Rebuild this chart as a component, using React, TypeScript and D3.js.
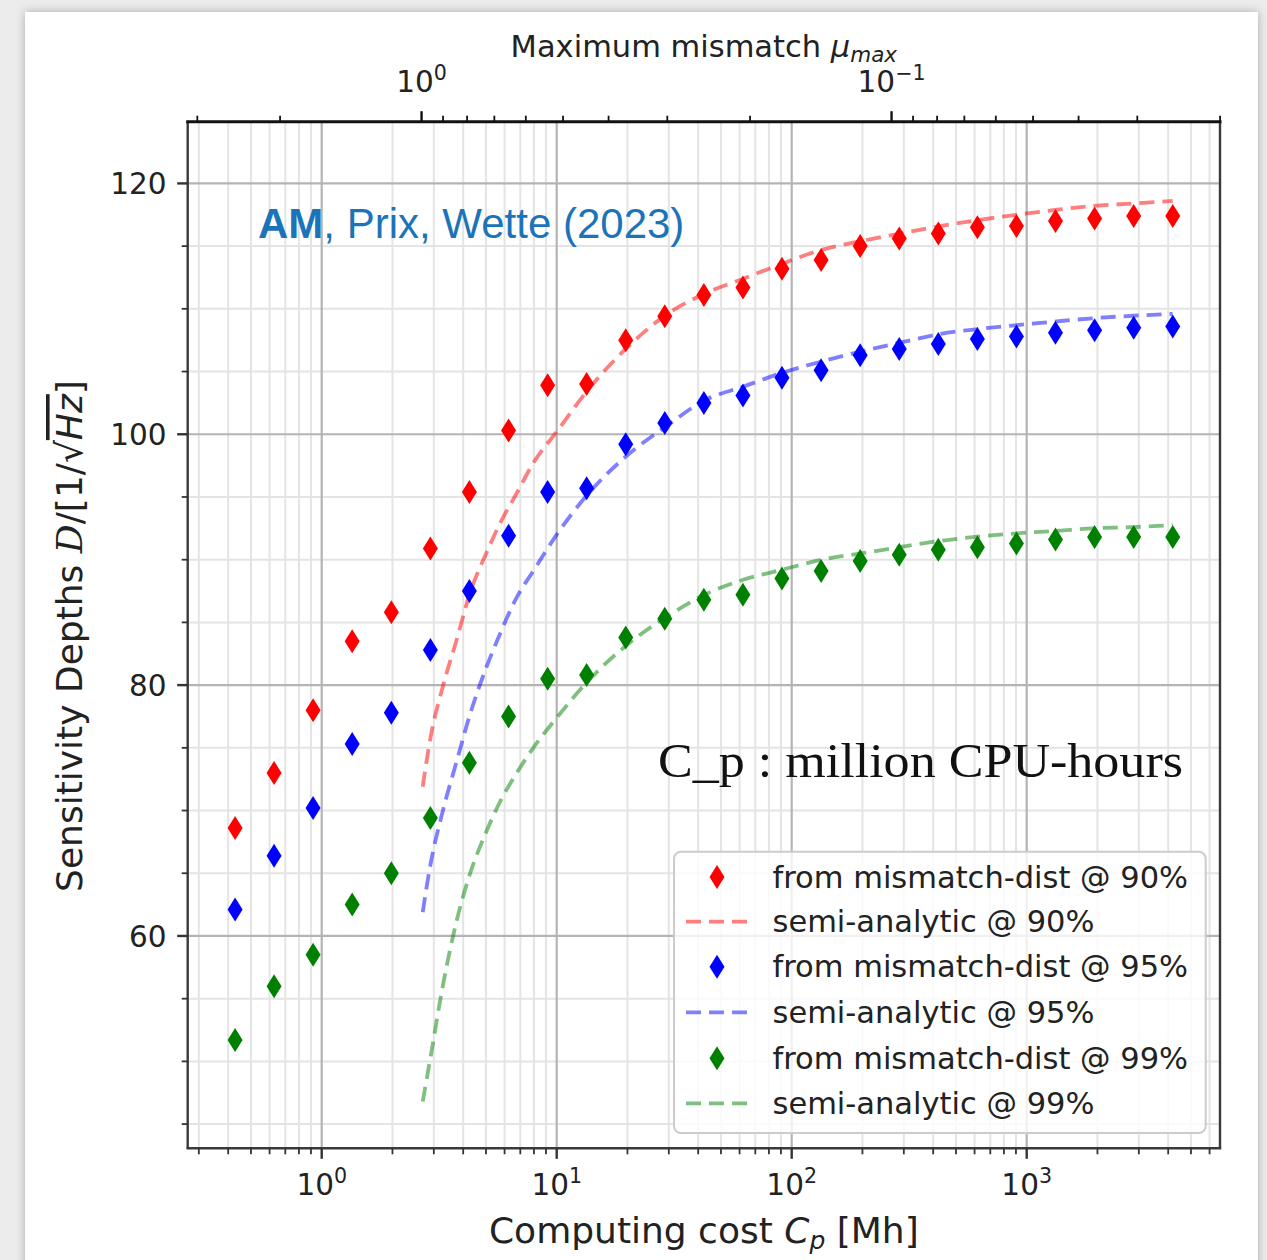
import React from "react";
import * as d3 from "d3";

// ---------- data ----------
const costMh = [0.428, 0.627, 0.919, 1.348, 1.978, 2.9, 4.25, 6.24, 9.15, 13.41, 19.67, 28.84, 42.29, 62.0, 90.9, 133.4, 195.6, 286.8, 420.6, 616.8, 904.5, 1326, 1945, 2853, 4182];
const dist90 = [68.6, 73.0, 78.0, 83.5, 85.8, 90.9, 95.4, 100.3, 103.9, 104.0, 107.5, 109.4, 111.1, 111.7, 113.2, 113.9, 115.0, 115.6, 116.0, 116.5, 116.6, 117.0, 117.2, 117.4, 117.4];
const dist95 = [62.1, 66.4, 70.2, 75.3, 77.8, 82.8, 87.5, 91.9, 95.4, 95.7, 99.2, 100.9, 102.5, 103.1, 104.5, 105.1, 106.3, 106.8, 107.2, 107.6, 107.8, 108.1, 108.3, 108.5, 108.6];
const dist99 = [51.7, 56.0, 58.5, 62.5, 65.0, 69.4, 73.8, 77.5, 80.5, 80.8, 83.8, 85.3, 86.8, 87.2, 88.5, 89.1, 89.9, 90.4, 90.8, 91.0, 91.3, 91.6, 91.8, 91.8, 91.8];

const semiCost = [2.69, 2.89, 3.29, 3.75, 4.25, 5.04, 5.74, 6.76, 7.95, 10.0, 13.4, 19.9, 29.1, 42.5, 62.2, 91.2, 134, 197, 289, 428, 632, 906, 1342, 1920, 2843, 4180];
const semi90 = [71.9, 75.6, 80.0, 83.6, 87.2, 90.6, 92.9, 95.3, 97.7, 100.2, 103.4, 106.9, 109.5, 111.2, 112.4, 113.6, 114.7, 115.4, 116.0, 116.6, 117.1, 117.5, 117.9, 118.2, 118.4, 118.6];
const semi95 = [61.9, 65.5, 70.1, 73.9, 77.5, 81.5, 84.1, 87.0, 89.1, 92.0, 95.1, 98.3, 100.6, 102.7, 103.8, 104.9, 105.8, 106.6, 107.3, 108.0, 108.4, 108.7, 109.0, 109.25, 109.45, 109.6];
const semi99 = [46.8, 50.1, 56.2, 61.2, 64.8, 68.4, 70.7, 73.0, 75.0, 77.4, 80.2, 83.2, 85.4, 87.2, 88.4, 89.2, 90.0, 90.5, 91.0, 91.5, 91.85, 92.1, 92.3, 92.5, 92.6, 92.75];

const yTickValues = [60, 80, 100, 120];
const levels = ["90%", "95%", "99%"];
const colors = ["#ff0000", "#0000ff", "#008000"];

const X_DOMAIN = [0.269, 6646];
const Y_DOMAIN = [43.07, 124.92];
const COST_AT_UNIT_MISMATCH = 2.66;

// ---------- layout ----------
const W = 1267;
const H = 1260;
const P = { left: 187.7, right: 1220, top: 121.7, bottom: 1148.3 };
const SANS = "'DejaVu Sans', sans-serif";

const x = d3.scaleLog().domain(X_DOMAIN).range([P.left, P.right]);
const y = d3.scaleLinear().domain(Y_DOMAIN).range([P.bottom, P.top]);
const mu = d3
  .scaleLog()
  .domain(X_DOMAIN.map((c) => Math.sqrt(COST_AT_UNIT_MISMATCH / c)))
  .range([P.left, P.right]);

const isPow10 = (v: number) => Math.abs(Math.log10(v) - Math.round(Math.log10(v))) < 1e-9;

const xTicks = x.ticks(50).filter((v) => x(v) >= P.left - 0.5 && x(v) <= P.right + 0.5);
const muTicks: number[] = [];
[-2, -1, 0].forEach((k) => {
  for (let m = 1; m <= 9; m++) {
    const v = m * Math.pow(10, k);
    const px = mu(v);
    if (px >= P.left - 1 && px <= P.right + 1.5) muTicks.push(v);
  }
});
const yMinor = d3.range(45, 125, 5).filter((v) => !yTickValues.includes(v));

const diamond = "M0,-12L7.5,0L0,12L-7.5,0Z";
const DASH = "15 8";
const LINE_W = 3.8;

const semiLines = [semi90, semi95, semi99];
const distPoints = [dist90, dist95, dist99];

const lineGen = d3
  .line<[number, number]>()
  .x((d) => x(d[0]))
  .y((d) => y(d[1]))
  .curve(d3.curveMonotoneX);

const expLabel = (e: number) => (e < 0 ? "\u2212" + Math.abs(e) : String(e));

export default function App() {
  const legendRows = [
    { kind: "m", i: 0 },
    { kind: "l", i: 0 },
    { kind: "m", i: 1 },
    { kind: "l", i: 1 },
    { kind: "m", i: 2 },
    { kind: "l", i: 2 },
  ];
  const legendY = [877, 921.7, 966.7, 1012.3, 1058.3, 1103.3];

  return (
    <svg
      width={W}
      height={H}
      style={{ position: "absolute", left: 0, top: 0, display: "block" }}
      fontFamily={SANS}
    >
      <defs>
        <filter id="shadow" x="-5%" y="-5%" width="110%" height="110%">
          <feDropShadow dx="0" dy="0" stdDeviation="5" floodColor="#000" floodOpacity="0.28" />
        </filter>
        <clipPath id="plotclip">
          <rect x={P.left} y={P.top} width={P.right - P.left} height={P.bottom - P.top} />
        </clipPath>
      </defs>
      <rect x={0} y={0} width={W} height={H} fill="#ececec" />
      <rect x={25} y={12} width={1233} height={H + 20} fill="#ffffff" filter="url(#shadow)" />

      {/* grid */}
      <g>
        {xTicks.filter((v) => !isPow10(v)).map((v) => (
          <line key={"gx" + v} x1={x(v)} x2={x(v)} y1={P.top} y2={P.bottom} stroke="#e4e4e4" strokeWidth={2} />
        ))}
        {yMinor.map((v) => (
          <line key={"gy" + v} x1={P.left} x2={P.right} y1={y(v)} y2={y(v)} stroke="#e4e4e4" strokeWidth={2} />
        ))}
        {xTicks.filter(isPow10).map((v) => (
          <line key={"gX" + v} x1={x(v)} x2={x(v)} y1={P.top} y2={P.bottom} stroke="#b4b4b4" strokeWidth={2.2} />
        ))}
        {yTickValues.map((v) => (
          <line key={"gY" + v} x1={P.left} x2={P.right} y1={y(v)} y2={y(v)} stroke="#b4b4b4" strokeWidth={2.2} />
        ))}
      </g>

      {/* semi-analytic curves */}
      <g clipPath="url(#plotclip)">
        {semiLines.map((vals, i) => (
          <path
            key={"sl" + i}
            d={lineGen(semiCost.map((c, j) => [c, vals[j]] as [number, number])) || ""}
            fill="none"
            stroke={colors[i]}
            strokeOpacity={0.5}
            strokeWidth={LINE_W}
            strokeDasharray={DASH}
          />
        ))}
      </g>

      {/* mismatch-dist points */}
      <g>
        {distPoints.map((vals, i) =>
          vals.map((v, j) => (
            <path key={"p" + i + "-" + j} d={diamond} transform={`translate(${x(costMh[j])},${y(v)})`} fill={colors[i]} />
          ))
        )}
      </g>

      {/* spines */}
      <g fill="none">
        <line x1={P.left} x2={P.left} y1={P.top} y2={P.bottom} stroke="#3a3a3a" strokeWidth={2.4} />
        <line x1={P.right} x2={P.right} y1={P.top} y2={P.bottom} stroke="#3a3a3a" strokeWidth={2.4} />
        <line x1={P.left - 1.2} x2={P.right + 1.2} y1={P.bottom} y2={P.bottom} stroke="#3a3a3a" strokeWidth={2.4} />
        <line x1={P.left - 1.5} x2={P.right + 1.5} y1={P.top} y2={P.top} stroke="#111" strokeWidth={3} />
      </g>

      {/* bottom axis */}
      <g>
        {xTicks.map((v) => {
          const major = isPow10(v);
          return (
            <line
              key={"tx" + v}
              x1={x(v)}
              x2={x(v)}
              y1={P.bottom}
              y2={P.bottom + (major ? 10.5 : 6)}
              stroke="#333"
              strokeWidth={major ? 2.4 : 1.8}
            />
          );
        })}
        {xTicks.filter(isPow10).map((v) => (
          <text key={"lx" + v} x={x(v)} y={1195} textAnchor="middle" fontSize={29.5} fill="#222">
            10
            <tspan dy={-12} fontSize={20.6}>
              {expLabel(Math.round(Math.log10(v)))}
            </tspan>
          </text>
        ))}
        <text x={(P.left + P.right) / 2} y={1243} textAnchor="middle" fontSize={36} fill="#222">
          Computing cost <tspan fontStyle="italic">C</tspan>
          <tspan fontStyle="italic" fontSize={25} dy={6}>
            p
          </tspan>
          <tspan dy={-6}> [Mh]</tspan>
        </text>
      </g>

      {/* top axis: maximum mismatch */}
      <g>
        {muTicks.map((v) => {
          const major = isPow10(v);
          return (
            <line
              key={"tm" + v}
              x1={mu(v)}
              x2={mu(v)}
              y1={P.top}
              y2={P.top - (major ? 10.5 : 6)}
              stroke="#111"
              strokeWidth={major ? 2.4 : 1.8}
            />
          );
        })}
        {muTicks.filter(isPow10).map((v) => (
          <text key={"lm" + v} x={mu(v)} y={92} textAnchor="middle" fontSize={29.5} fill="#222">
            10
            <tspan dy={-12} fontSize={20.6}>
              {expLabel(Math.round(Math.log10(v)))}
            </tspan>
          </text>
        ))}
        <text x={(P.left + P.right) / 2} y={57} textAnchor="middle" fontSize={30.5} fill="#222">
          Maximum mismatch <tspan fontStyle="italic">μ</tspan>
          <tspan fontStyle="italic" fontSize={21.5} dy={5}>
            max
          </tspan>
        </text>
      </g>

      {/* left axis */}
      <g>
        {yMinor.map((v) => (
          <line key={"tym" + v} x1={P.left} x2={P.left - 6} y1={y(v)} y2={y(v)} stroke="#333" strokeWidth={1.8} />
        ))}
        {yTickValues.map((v) => (
          <g key={"ty" + v}>
            <line x1={P.left} x2={P.left - 10.5} y1={y(v)} y2={y(v)} stroke="#333" strokeWidth={2.4} />
            <text x={166.5} y={y(v) + 10.7} textAnchor="end" fontSize={29.5} fill="#222">
              {v}
            </text>
          </g>
        ))}
        <text transform="translate(82,636) rotate(-90)" textAnchor="middle" fontSize={36} fill="#222">
          Sensitivity Depths{" "}
          <tspan fontStyle="italic" fontFamily="'DejaVu Serif', serif">
            D
          </tspan>
          /[1/√
          <tspan fontStyle="italic" style={{ textDecoration: "overline" }}>
            Hz
          </tspan>
          ]
        </text>
      </g>

      {/* annotations */}
      <text x={258} y={238} fontFamily="'Liberation Sans', Arial, sans-serif" fontSize={42} fill="#1b73b9">
        <tspan fontWeight="bold">AM</tspan>, Prix, Wette (2023)
      </text>
      <text
        x={658}
        y={777}
        fontFamily="'Liberation Serif', serif"
        fontSize={48}
        fill="#111"
        textLength={525}
        lengthAdjust="spacingAndGlyphs"
      >
        C_p : million CPU-hours
      </text>

      {/* legend */}
      <g>
        <rect x={674} y={851.7} width={531.7} height={281.3} rx={7} fill="#ffffff" fillOpacity={0.8} stroke="#cccccc" strokeWidth={2} />
        {legendRows.map((r, k) => (
          <g key={"lg" + k}>
            {r.kind === "m" ? (
              <path d={diamond} transform={`translate(717,${legendY[k]})`} fill={colors[r.i]} />
            ) : (
              <line
                x1={686}
                x2={748}
                y1={legendY[k]}
                y2={legendY[k]}
                stroke={colors[r.i]}
                strokeOpacity={0.5}
                strokeWidth={LINE_W}
                strokeDasharray={DASH}
              />
            )}
            <text x={772.5} y={legendY[k] + 10.5} fontSize={30.5} fill="#222">
              {(r.kind === "m" ? "from mismatch-dist @ " : "semi-analytic @ ") + levels[r.i]}
            </text>
          </g>
        ))}
      </g>
    </svg>
  );
}
